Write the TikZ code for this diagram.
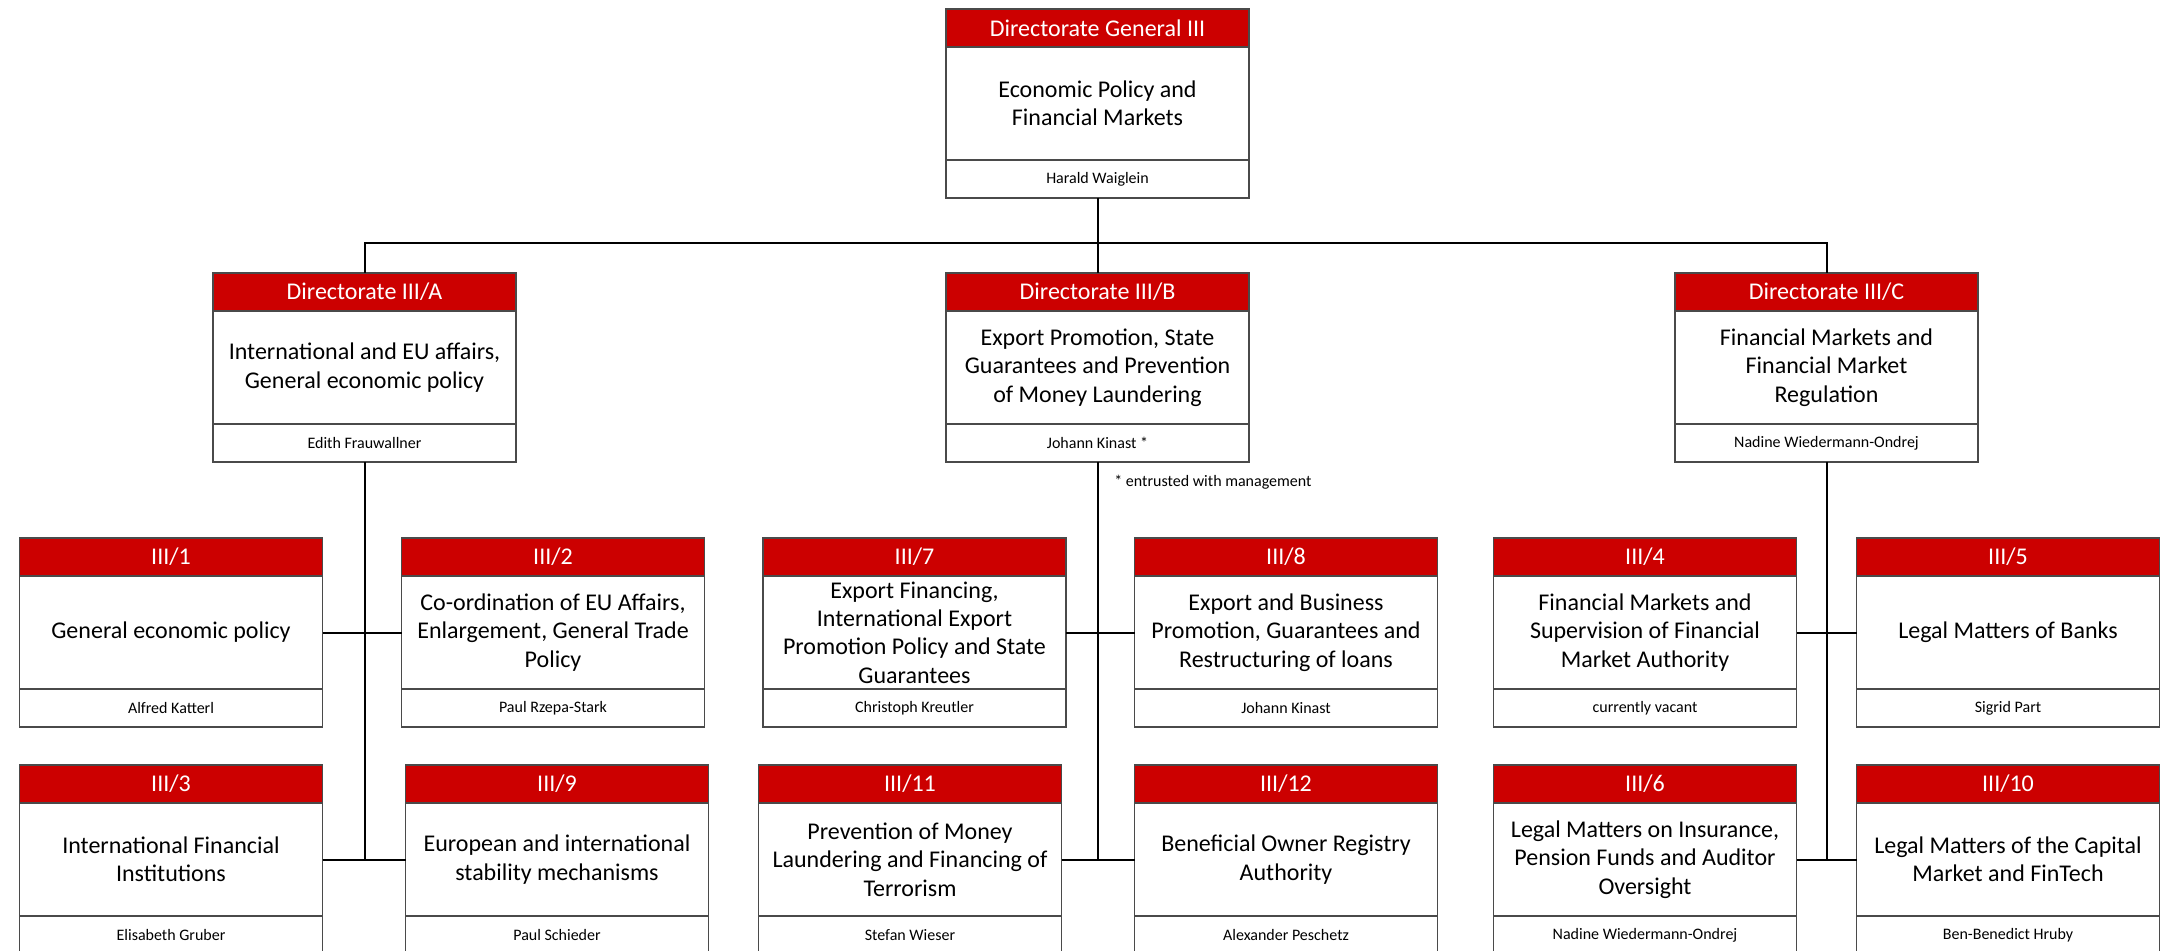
\documentclass[tikz,border=0pt]{standalone}
\usepackage{fontspec}
\setmainfont{Carlito}
\usetikzlibrary{positioning}

\definecolor{bmfred}{HTML}{CC0000}
\definecolor{boxline}{HTML}{4A4A4A}

% one unit: red head, task text, person in charge
\newcommand\orgunit[5]{%
  \node[unithead] (#1-h) at (#2) {#3};
  \node[unitbody, below=0pt of #1-h] (#1) {#4};
  \node[unitname, below=0pt of #1] (#1-p) {#5};
}

\begin{document}
\begin{tikzpicture}[x=0.5pt,y=-0.5pt,
    unit/.style={draw=boxline, line width=0.6pt, minimum width=151.5pt,
      outer sep=0pt, inner ysep=0pt, align=center},
    unithead/.style={unit, anchor=north, fill=bmfred, text=white,
      minimum height=19pt, font=\fontsize{12}{14.2}\selectfont},
    unitbody/.style={unit, fill=white, minimum height=56.5pt,
      font=\fontsize{12}{14.2}\selectfont},
    unitname/.style={unit, fill=white, minimum height=19pt,
      font=\fontsize{8}{10}\selectfont},
    link/.style={line width=1pt, black},
    note/.style={font=\fontsize{8}{10}\selectfont, inner sep=1pt}]
  \useasboundingbox (0,0) rectangle (2168,951);

  \orgunit{dg}{1097.5,9}{Directorate General III}{Economic Policy and\\Financial Markets}{Harald Waiglein}

  \orgunit{dA}{364.5,273}{Directorate III/A}{International and EU affairs,\\General economic policy}{Edith Frauwallner}
  \orgunit{dB}{1097.5,273}{Directorate III/B}{Export Promotion, State\\Guarantees and Prevention\\of Money Laundering}{Johann Kinast *}
  \orgunit{dC}{1826.5,273}{Directorate III/C}{Financial Markets and\\Financial Market\\Regulation}{Nadine Wiedermann-Ondrej}

  \node[note, anchor=west] (fn) at (1112,482) {* entrusted with management};

  % sections, first row
  \orgunit{s1}{171,538}{III/1}{General economic policy}{Alfred Katterl}
  \orgunit{s2}{553,538}{III/2}{Co-ordination of EU Affairs,\\Enlargement, General Trade\\Policy}{Paul Rzepa-Stark}
  \orgunit{s7}{914.5,538}{III/7}{Export Financing,\\International Export\\Promotion Policy and State\\Guarantees}{Christoph Kreutler}
  \orgunit{s8}{1286,538}{III/8}{Export and Business\\Promotion, Guarantees and\\Restructuring of loans}{Johann Kinast}
  \orgunit{s4}{1645,538}{III/4}{Financial Markets and\\Supervision of Financial\\Market Authority}{currently vacant}
  \orgunit{s5}{2008,538}{III/5}{Legal Matters of Banks}{Sigrid Part}

  % sections, second row
  \orgunit{s3}{171,765}{III/3}{International Financial\\Institutions}{Elisabeth Gruber}
  \orgunit{s9}{557,765}{III/9}{European and international\\stability mechanisms}{Paul Schieder}
  \orgunit{s11}{910,765}{III/11}{Prevention of Money\\Laundering and Financing of\\Terrorism}{Stefan Wieser}
  \orgunit{s12}{1286,765}{III/12}{Beneficial Owner Registry\\Authority}{Alexander Peschetz}
  \orgunit{s6}{1645,765}{III/6}{Legal Matters on Insurance,\\Pension Funds and Auditor\\Oversight}{Nadine Wiedermann-Ondrej}
  \orgunit{s10}{2008,765}{III/10}{Legal Matters of the Capital\\Market and FinTech}{Ben-Benedict Hruby}

  % connectors
  \coordinate (bus) at (1097.5,243);
  \draw[link] (dg-p.south) -- (dB-h.north);
  \draw[link] (dA-h.north) |- (bus) -| (dC-h.north);

  \draw[link] (dA-p.south) -- (dA-p.south |- s3.east);
  \draw[link] (s1.east) -- (s2.west);
  \draw[link] (s3.east) -- (s9.west);

  \draw[link] (dB-p.south) -- (dB-p.south |- s11.east);
  \draw[link] (s7.east) -- (s8.west);
  \draw[link] (s11.east) -- (s12.west);

  \draw[link] (dC-p.south) -- (dC-p.south |- s6.east);
  \draw[link] (s4.east) -- (s5.west);
  \draw[link] (s6.east) -- (s10.west);
\end{tikzpicture}
\end{document}
